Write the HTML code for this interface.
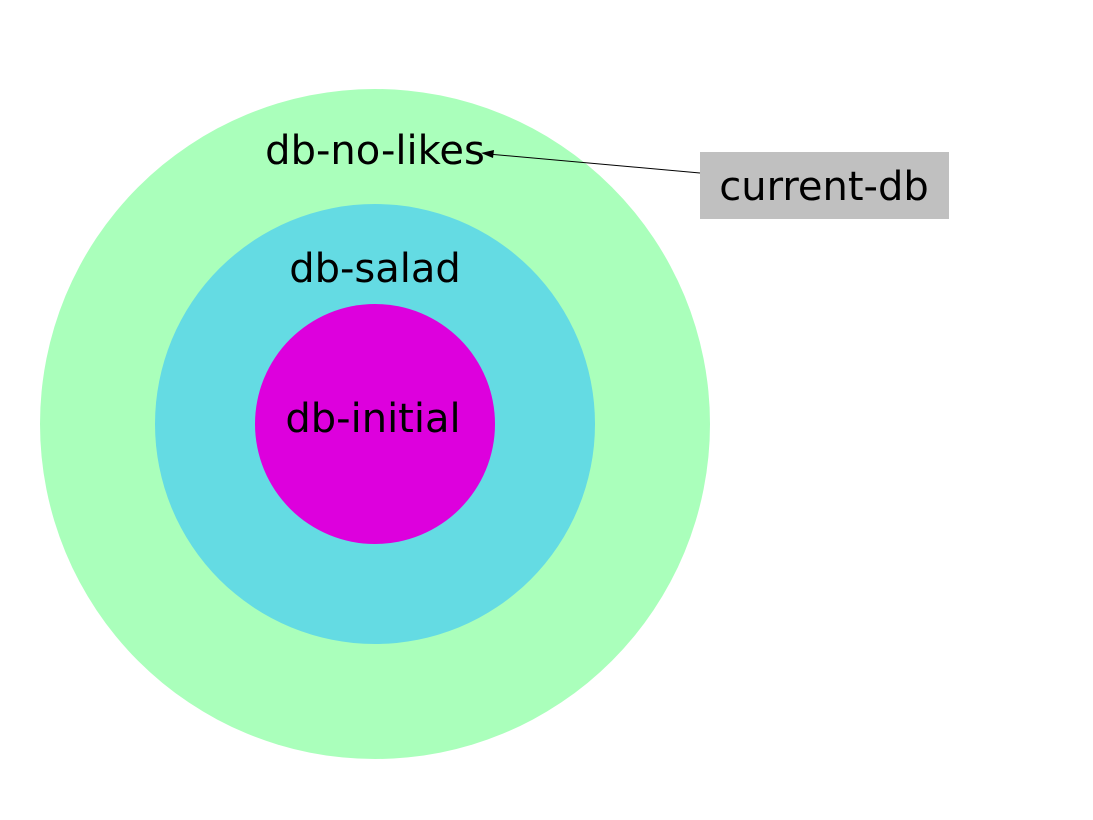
<!DOCTYPE html>
<html><head><meta charset="utf-8"><style>body{margin:0;background:#fff}svg{display:block}</style></head>
<body>
<svg width="1093" height="820" xmlns="http://www.w3.org/2000/svg" font-family="DejaVu Sans, Liberation Sans, sans-serif" font-size="40">
<circle cx="375" cy="424" r="335" fill="#aaffbb"/>
<circle cx="375" cy="424" r="220" fill="#64dbe3"/>
<circle cx="375" cy="424" r="120" fill="#dd00dd"/>
<text x="375" y="164" text-anchor="middle">db-no-likes</text>
<text x="375" y="282" text-anchor="middle">db-salad</text>
<text x="373" y="432" text-anchor="middle">db-initial</text>
<rect x="700" y="152" width="249" height="67" fill="#c0c0c0"/>
<text x="824" y="200" text-anchor="middle">current-db</text>
<line x1="700" y1="173" x2="488" y2="154" stroke="#000" stroke-width="1"/>
<polygon points="481,153 494,150 493,158" fill="#000"/>
</svg>
</body></html>
